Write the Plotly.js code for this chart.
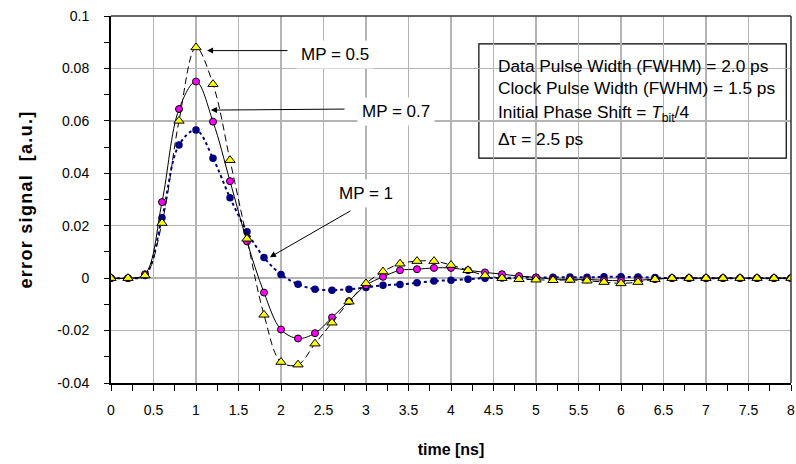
<!DOCTYPE html>
<html>
<head>
<meta charset="utf-8">
<script src="https://cdn.plot.ly/plotly-3.0.1.min.js"></script>
<style>html,body{margin:0;padding:0;background:#fff;}#chart{width:796px;height:464px;}
.ytitle{letter-spacing:1.3px;}</style>
</head>
<body>
<div id="chart"></div>
<script>
// time axis [ns]
var time = [0, 0.2, 0.4, 0.6, 0.8, 1.0, 1.2, 1.4, 1.6, 1.8, 2.0, 2.2, 2.4, 2.6, 2.8, 3.0, 3.2, 3.4, 3.6, 3.8,
            4.0, 4.2, 4.4, 4.6, 4.8, 5.0, 5.2, 5.4, 5.6, 5.8, 6.0, 6.2, 6.4, 6.6, 6.8, 7.0, 7.2, 7.4, 7.6, 7.8, 8.0];

// MP = 0.5 (yellow triangles, dashed)
var mp05 = [0, 0, 0.001, 0.021, 0.060, 0.088, 0.074, 0.045, 0.015, -0.014, -0.032, -0.033, -0.025, -0.017, -0.009,
            -0.002, 0.0025, 0.0055, 0.0065, 0.0065, 0.005, 0.003, 0.001, 0, -0.0004, -0.0006, -0.0008, -0.0007,
            -0.001, -0.0015, -0.002, -0.0015, -0.0004, 0, 0, 0, 0, 0, 0, 0, 0];

// MP = 0.7 (magenta circles, solid)
var mp07 = [0, 0, 0.0015, 0.029, 0.0645, 0.075, 0.0597, 0.037, 0.014, -0.0055, -0.0196, -0.023, -0.021, -0.015, -0.0088,
            -0.0027, 0.0005, 0.003, 0.0034, 0.0039, 0.0039, 0.003, 0.0022, 0.0015, 0.0008, 0.0003, -0.0004, -0.0004,
            -0.0005, -0.0008, -0.001, -0.0008, -0.0004, 0, 0, 0, 0, 0, 0, 0, 0];

// MP = 1 (navy dots, dotted)
var mp1 = [0, 0, 0.001, 0.023, 0.0508, 0.0565, 0.0457, 0.0307, 0.0177, 0.0079, 0.0014, -0.0023, -0.0042, -0.0046, -0.0042,
           -0.0036, -0.0027, -0.0024, -0.0018, -0.0011, -0.0008, -0.0004, 0, 0.0001, 0.0002, 0.0002, 0.0003, 0.0004,
           0.0003, 0.0005, 0.0005, 0.0004, 0.0002, 0, 0, 0, 0, 0, 0, 0, 0];

var yTickVals = [0.1, 0.08, 0.06, 0.04, 0.02, 0, -0.02, -0.04];
var yTickText = ['0.1', '0.08', '0.06', '0.04', '0.02', '0', '-0.02', '-0.04'];
var xTickVals = [0, 0.5, 1, 1.5, 2, 2.5, 3, 3.5, 4, 4.5, 5, 5.5, 6, 6.5, 7, 7.5, 8];
var xTickText = ['0', '0.5', '1', '1.5', '2', '2.5', '3', '3.5', '4', '4.5', '5', '5.5', '6', '6.5', '7', '7.5', '8'];

var infoLines = [
  'Data Pulse Width (FWHM) = 2.0 ps',
  'Clock Pulse Width (FWHM) = 1.5 ps',
  'Initial Phase Shift = <i>T</i><sub>bit</sub>/4',
  '\u0394\u03c4 = 2.5 ps'
];

var FONT = '"Liberation Sans", Arial, Helvetica, sans-serif';

var traces = [
  {x: time, y: mp1, type: 'scatter', mode: 'lines+markers', name: 'MP = 1',
   line: {color: '#000080', width: 2, dash: 'dot', shape: 'spline', smoothing: 1},
   marker: {symbol: 'circle', size: 7.5, color: '#000080'}},
  {x: time, y: mp07, type: 'scatter', mode: 'lines+markers', name: 'MP = 0.7',
   line: {color: '#000000', width: 1, shape: 'spline', smoothing: 1},
   marker: {symbol: 'circle', size: 7, color: '#ff00ff', line: {color: '#000000', width: 1}}},
  {x: time, y: mp05, type: 'scatter', mode: 'lines+markers', name: 'MP = 0.5',
   line: {color: '#000000', width: 1, dash: '7px,4px', shape: 'spline', smoothing: 1},
   marker: {symbol: 'triangle-up', size: 9, color: '#ffff00', line: {color: '#000000', width: 1}}}
];

var annotations = [
  // arrows
  {x: 1.13, y: 0.0868, ax: 2.094, ay: 0.0868, axref: 'x', ayref: 'y', xref: 'x', yref: 'y', text: '',
   showarrow: true, arrowhead: 2, arrowsize: 1.2, arrowwidth: 1, arrowcolor: '#000'},
  {x: 1.176, y: 0.0641, ax: 2.765, ay: 0.0645, axref: 'x', ayref: 'y', xref: 'x', yref: 'y', text: '',
   showarrow: true, arrowhead: 2, arrowsize: 1.2, arrowwidth: 1, arrowcolor: '#000'},
  {x: 1.87, y: 0.008, ax: 2.835, ay: 0.026, axref: 'x', ayref: 'y', xref: 'x', yref: 'y', text: '',
   showarrow: true, arrowhead: 2, arrowsize: 1.2, arrowwidth: 1, arrowcolor: '#000'},
  // labels
  {x: 2.63, y: 0.0855, xref: 'x', yref: 'y', text: 'MP = 0.5', showarrow: false, bgcolor: '#fff', borderpad: 4,
   font: {family: FONT, size: 17, color: '#000'}},
  {x: 3.35, y: 0.0634, xref: 'x', yref: 'y', text: 'MP = 0.7', showarrow: false, bgcolor: '#fff', borderpad: 4,
   font: {family: FONT, size: 17, color: '#000'}},
  {x: 3.0, y: 0.0324, xref: 'x', yref: 'y', text: 'MP = 1', showarrow: false, bgcolor: '#fff', borderpad: 4,
   font: {family: FONT, size: 17, color: '#000'}}
];

var infoY = [0.864, 0.804, 0.735, 0.665];
for (var i = 0; i < infoLines.length; i++) {
  annotations.push({xref: 'paper', yref: 'paper', x: 0.566, y: infoY[i], xanchor: 'left', yanchor: 'middle',
    text: infoLines[i], showarrow: false, font: {family: FONT, size: 17.3, color: '#000'}});
}

var layout = {
  width: 796, height: 464,
  margin: {l: 111, r: 5, t: 16, b: 81},
  paper_bgcolor: '#ffffff', plot_bgcolor: '#ffffff',
  showlegend: false,
  font: {family: FONT, size: 14, color: '#000'},
  xaxis: {
    range: [0, 8], tickvals: xTickVals, ticktext: xTickText,
    showgrid: true, gridcolor: '#b4b4b4', gridwidth: 1.5,
    showline: true, linecolor: '#000', linewidth: 2,
    ticks: 'outside', ticklen: 6, tickwidth: 1, tickcolor: '#000', ticklabelstandoff: 7,
    minor: {dtick: 0.25, ticks: 'outside', ticklen: 6, tickwidth: 1, tickcolor: '#000', showgrid: false},
    zeroline: false, tickfont: {family: FONT, size: 14},
    title: {text: '<b>time [ns]</b>', font: {family: FONT, size: 16}, standoff: 27}
  },
  yaxis: {
    range: [-0.04, 0.1], tickvals: yTickVals, ticktext: yTickText,
    showgrid: true, gridcolor: '#b4b4b4', gridwidth: 1.5,
    showline: true, linecolor: '#000', linewidth: 2,
    ticks: 'outside', ticklen: 5, tickwidth: 1, tickcolor: '#000', ticklabelstandoff: 12,
    minor: {dtick: 0.01, tick0: 0, ticks: 'outside', ticklen: 5, tickwidth: 1, tickcolor: '#000', showgrid: false},
    zeroline: false, tickfont: {family: FONT, size: 14},
    title: {text: '<b>error signal  [a.u.]</b>', font: {family: FONT, size: 18}, standoff: 20}
  },
  shapes: [
    {type: 'line', xref: 'paper', yref: 'paper', x0: 0, x1: 1, y0: 1, y1: 1, line: {color: '#333', width: 1.5}},
    {type: 'line', xref: 'paper', yref: 'paper', x0: 1, x1: 1, y0: 0, y1: 1, line: {color: '#333', width: 1.5}},
    {type: 'rect', xref: 'paper', yref: 'paper', x0: 0.541, x1: 0.993, y0: 0.613, y1: 0.924,
     fillcolor: '#ffffff', line: {color: '#000', width: 1.2}, layer: 'below'}
  ],
  annotations: annotations
};

Plotly.newPlot('chart', traces, layout, {displayModeBar: false, staticPlot: true});
</script>
</body>
</html>
